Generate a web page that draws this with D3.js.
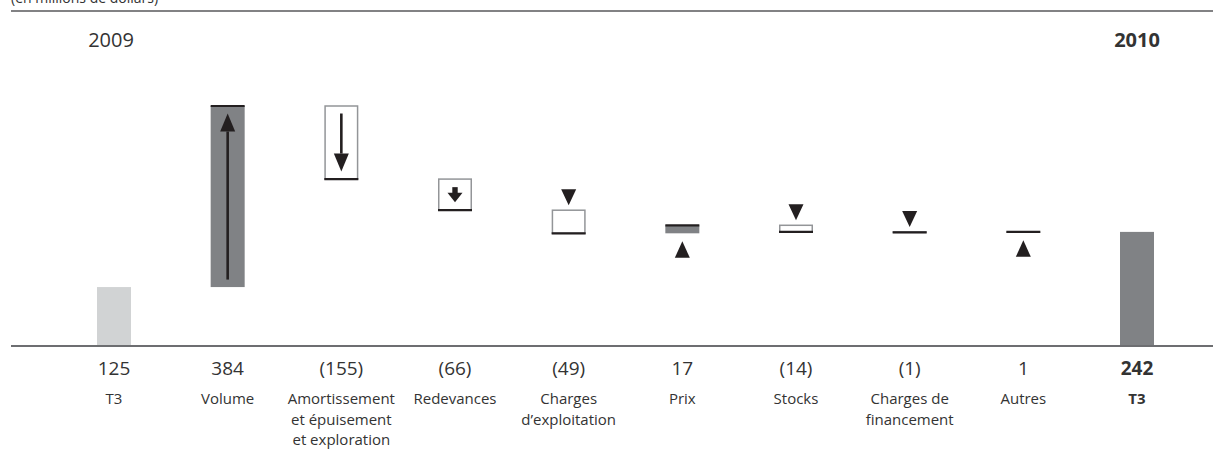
<!DOCTYPE html>
<html>
<head>
<meta charset="utf-8">
<script src="https://cdn.jsdelivr.net/npm/d3@7"></script>
<style>
  html, body { margin: 0; padding: 0; background: #fff; }
  svg { display: block; }
  text { font-family: "Open Sans", "Noto Sans", sans-serif; fill: #333; }
</style>
</head>
<body>
<svg id="chart" width="1213" height="457"></svg>
<script>
// ---- data ----
const unitLabel = "(en millions de dollars)";
const yearLabels = ["2009", "2010"];
const categoryLines = [
  ["T3"],
  ["Volume"],
  ["Amortissement", "et épuisement", "et exploration"],
  ["Redevances"],
  ["Charges", "d’exploitation"],
  ["Prix"],
  ["Stocks"],
  ["Charges de", "financement"],
  ["Autres"],
  ["T3"]
];
const valueLabels = ["125", "384", "(155)", "(66)", "(49)", "17", "(14)", "(1)", "1", "242"];
const values = [125, 384, -155, -66, -49, 17, -14, -1, 1, 242];

// ---- layout ----
const W = 1213, H = 457;
const baseY = 346;
const svg = d3.select("#chart");

// cumulative waterfall
let run = 0;
const items = values.map((v, i) => {
  const isTotal = (i === 0 || i === values.length - 1);
  let start, end;
  if (isTotal) { start = 0; end = v; run = v; }
  else { start = run; end = run + v; run = end; }
  return { i, v, start, end, isTotal };
});

const x = d3.scalePoint().domain(d3.range(values.length)).range([114, 1137]);
const maxCum = d3.max(items, d => Math.max(d.start, d.end));
const y = d3.scaleLinear().domain([0, maxCum]).range([baseY, 106]);
const bw = 34;

// unit label (partly clipped at top, as in the source)
svg.append("text").attr("x", 11).attr("y", 3).style("font-size", "14px").text(unitLabel);

// top rule
svg.append("line").attr("x1", 11).attr("x2", W).attr("y1", 11).attr("y2", 11)
  .attr("stroke", "#58595b").attr("stroke-width", 1.5);

// year labels
svg.append("text").attr("x", x(0) - 3).attr("y", 47).attr("text-anchor", "middle")
  .style("font-size", "20px").text(yearLabels[0]);
svg.append("text").attr("x", x(values.length - 1)).attr("y", 47).attr("text-anchor", "middle")
  .style("font-size", "20px").style("font-weight", "bold").text(yearLabels[1]);

const g = svg.append("g");

items.forEach(d => {
  const cx = x(d.i);
  const x0 = cx - bw / 2;
  const ys = y(d.start), ye = y(d.end);
  if (d.isTotal) {
    g.append("rect").attr("x", x0).attr("width", bw)
      .attr("y", ye).attr("height", ys - ye)
      .attr("fill", d.i === 0 ? "#d1d3d4" : "#808285");
    return;
  }
  if (d.v > 0) {
    g.append("rect").attr("x", x0).attr("width", bw)
      .attr("y", ye).attr("height", Math.max(0, ys - ye))
      .attr("fill", "#808285");
  } else {
    g.append("rect").attr("x", x0 + 0.75).attr("width", bw - 1.5)
      .attr("y", ys).attr("height", Math.max(0, ye - ys))
      .attr("fill", "#fff").attr("stroke", "#939598").attr("stroke-width", 1.5);
  }
  // black end line
  g.append("line").attr("x1", x0).attr("x2", x0 + bw)
    .attr("y1", ye).attr("y2", ye)
    .attr("stroke", "#231f20").attr("stroke-width", 2.2);

  const av = Math.abs(d.v);
  const dir = d.v > 0 ? -1 : 1; // -1 up, +1 down
  if (av >= 100) {
    // long thin arrow inside
    const tail = ys + dir * 7.5;
    const tip = ye - dir * 7.5;
    const headBase = tip - dir * 18;
    g.append("line").attr("x1", cx).attr("x2", cx).attr("y1", tail).attr("y2", headBase)
      .attr("stroke", "#231f20").attr("stroke-width", 2.6);
    g.append("path").attr("d", `M${cx - 7.5},${headBase} L${cx + 7.5},${headBase} L${cx},${tip} Z`)
      .attr("fill", "#231f20");
  } else if (av >= 60) {
    // compact fat arrow centered inside the box
    const mid = (ys + ye) / 2;
    const top = mid - dir * 7.5;
    const shaftEnd = top + dir * 5.5;
    const tip = mid + dir * 7.5;
    g.append("rect").attr("x", cx - 2.7).attr("width", 5.4)
      .attr("y", Math.min(top, shaftEnd)).attr("height", Math.abs(shaftEnd - top) + 0.5)
      .attr("fill", "#231f20");
    g.append("path").attr("d", `M${cx - 7.5},${shaftEnd} L${cx + 7.5},${shaftEnd} L${cx},${tip} Z`)
      .attr("fill", "#231f20");
  } else {
    // triangle outside the box
    if (d.v < 0) {
      const tip = ys - 5, base = ys - 21;
      g.append("path").attr("d", `M${cx - 7.5},${base} L${cx + 7.5},${base} L${cx},${tip} Z`)
        .attr("fill", "#231f20");
    } else {
      const tip = ys + 8, base = ys + 24.5;
      g.append("path").attr("d", `M${cx - 7.5},${base} L${cx + 7.5},${base} L${cx},${tip} Z`)
        .attr("fill", "#231f20");
    }
  }
});

// baseline
svg.append("line").attr("x1", 11).attr("x2", W).attr("y1", baseY).attr("y2", baseY)
  .attr("stroke", "#6d6e71").attr("stroke-width", 2);

// value labels
svg.selectAll("text.val").data(valueLabels).enter().append("text")
  .attr("class", "val")
  .attr("x", (d, i) => x(i)).attr("y", 375)
  .attr("text-anchor", "middle")
  .style("font-size", "19px")
  .style("font-weight", (d, i) => i === valueLabels.length - 1 ? "bold" : "normal")
  .text(d => d);

// category labels
const cat = svg.selectAll("text.cat").data(categoryLines).enter().append("text")
  .attr("class", "cat")
  .attr("text-anchor", "middle")
  .style("font-size", "15px")
  .style("font-weight", (d, i) => i === categoryLines.length - 1 ? "bold" : "normal");
cat.each(function(lines, i) {
  d3.select(this).selectAll("tspan").data(lines).enter().append("tspan")
    .attr("x", x(i)).attr("y", (l, j) => 404 + j * 20.6)
    .text(l => l);
});
</script>
</body>
</html>
